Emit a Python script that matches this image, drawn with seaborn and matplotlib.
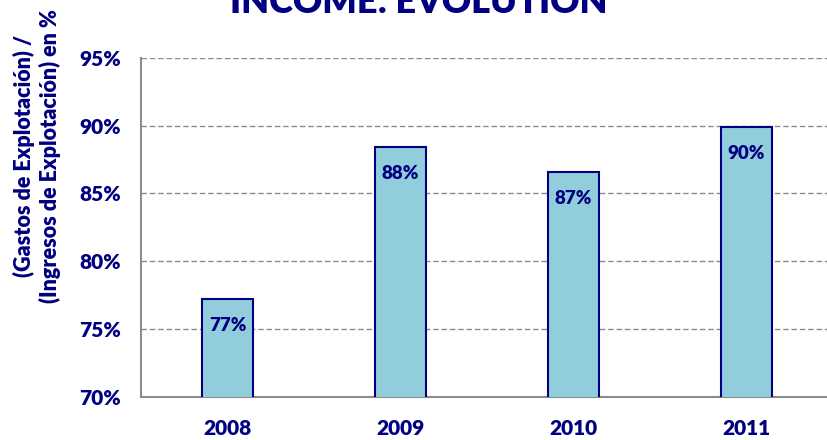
import matplotlib
matplotlib.use("Agg")
import matplotlib.pyplot as plt
import seaborn as sns
import pandas as pd
from matplotlib.ticker import FixedLocator, FuncFormatter

years = ["2008", "2009", "2010", "2011"]
ratios = [77.2, 88.4, 86.6, 89.9]
labels = ["77%", "88%", "87%", "90%"]
yticks = [70, 75, 80, 85, 90, 95]
title = "INCOME: EVOLUTION"
ylabel = "(Gastos de Explotación) /\n(Ingresos de Explotación) en %"

NAVY = "#000080"
FILL = "#92CDDC"
GRAY = "#8C8C8C"
W = "heavy"

sns.set_style("white")
plt.rcParams["font.family"] = ["Lato", "DejaVu Sans"]
plt.rcParams["font.weight"] = W

df = pd.DataFrame({"year": years, "ratio": ratios})

fig = plt.figure(figsize=(8.27, 4.40), dpi=100)
ax = fig.add_axes([141 / 827, 43 / 440, 692 / 827, 339.3 / 440])

sns.barplot(data=df, x="year", y="ratio", color=FILL, width=0.29,
            edgecolor=NAVY, linewidth=1.5, saturation=1, ax=ax, zorder=3)

ax.set_ylim(70, 95)
ax.set_xlim(-0.5, 3.5)
ax.yaxis.set_major_locator(FixedLocator(yticks))
ax.yaxis.set_major_formatter(FuncFormatter(lambda v, p: f"{v:.0f}%"))
ax.grid(axis="y", color=GRAY, linestyle=(0, (4, 2)), linewidth=1.0, zorder=0)
ax.set_axisbelow(True)

for s in ["top", "right"]:
    ax.spines[s].set_visible(False)
for s in ["left", "bottom"]:
    ax.spines[s].set_color(GRAY)
    ax.spines[s].set_linewidth(1.5)

ax.tick_params(axis="y", which="major", direction="inout", length=13, width=1.2,
               color=GRAY, labelsize=15, labelcolor=NAVY, pad=8)
ax.tick_params(axis="x", which="major", length=0, labelsize=15, labelcolor=NAVY, pad=16)
ax.xaxis.set_minor_locator(FixedLocator([-0.5, 0.5, 1.5, 2.5, 3.5]))
ax.tick_params(axis="x", which="minor", direction="out", length=7, width=1.2, color=GRAY)
for t in ax.get_xticklabels() + ax.get_yticklabels():
    t.set_fontweight(W)

ax.set_xlabel("")
ax.set_ylabel("")

for i, (v, lab) in enumerate(zip(ratios, labels)):
    ax.annotate(lab, xy=(i, v), xytext=(0, -19), textcoords="offset points",
                ha="center", va="center", color=NAVY, fontsize=13.5,
                fontweight=W, zorder=5)

fig.text(37 / 827, 1 - 156 / 440, ylabel, rotation=90, ha="center", va="center",
         multialignment="center", color=NAVY, fontsize=15.5, fontweight=W,
         linespacing=1.25)
fig.text(419 / 827, 1 - 13 / 440, title, ha="center", va="baseline",
         color=NAVY, fontsize=26, fontweight=W)

fig.savefig("out.png", dpi=100)
